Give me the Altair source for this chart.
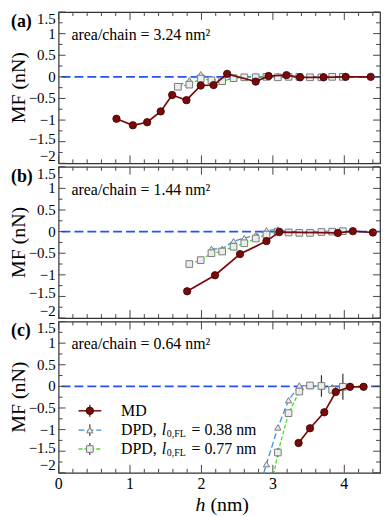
import altair as alt
import pandas as pd

FONT = "Liberation Serif"

# ---------------- data ----------------
x_major = [0, 1, 2, 3, 4]
x_tick_labels = ["0", "1", "2", "3", "4"]
x_minor = [0.2, 0.4, 0.6, 0.8, 1.2, 1.4, 1.6, 1.8, 2.2, 2.4, 2.6, 2.8,
           3.2, 3.4, 3.6, 3.8, 4.2, 4.4]
y_major = [-2, -1.5, -1, -0.5, 0, 0.5, 1, 1.5]
y_tick_labels = ["−2", "−1.5", "−1", "−0.5", "0", "0.5", "1", "1.5"]
y_minor = [-1.75, -1.25, -0.75, -0.25, 0.25, 0.75, 1.25]

h_dpd = [1.67, 1.83, 1.99, 2.14, 2.29, 2.45, 2.60, 2.76, 2.91, 3.07, 3.22,
         3.37, 3.52, 3.68, 3.83, 3.98]

# panel (a): area/chain = 3.24 nm2
a_md_h = [0.81, 1.04, 1.24, 1.43, 1.59, 1.79, 1.99, 2.17, 2.36, 2.76, 2.94,
          3.19, 3.38, 3.71, 4.02, 4.37]
a_md_mf = [-0.97, -1.12, -1.05, -0.80, -0.42, -0.54, -0.20, -0.19, 0.07,
           -0.11, 0.02, 0.04, -0.01, -0.01, 0.0, 0.0]
a_t_h = h_dpd
a_t_mf = [-0.21, -0.08, 0.06, -0.05, -0.09, -0.03, 0.0, 0.01, 0.01, 0.02,
          0.0, 0.01, 0.0, 0.0, 0.0, 0.01]
a_s_h = h_dpd
a_s_mf = [-0.23, -0.18, -0.04, -0.08, -0.10, -0.03, -0.01, -0.01, 0.0,
          -0.01, 0.0, 0.0, -0.01, -0.01, 0.0, 0.0]

# panel (b): area/chain = 1.44 nm2
b_md_h = [1.80, 2.19, 2.54, 2.91, 3.09, 3.91, 4.12, 4.40]
b_md_mf = [-1.38, -1.01, -0.52, -0.22, -0.01, -0.03, 0.01, -0.02]
b_t_h = [2.14, 2.29, 2.45, 2.60, 2.76, 2.91, 3.07, 3.22, 3.37, 3.52, 3.68,
         3.83, 3.98]
b_t_mf = [-0.40, -0.40, -0.22, -0.15, -0.08, 0.03, 0.05, 0.0, 0.0, 0.0,
          0.0, 0.01, 0.01]
b_s_h = [1.83, 1.99, 2.14, 2.29, 2.45, 2.60, 2.76, 2.91, 3.07, 3.22, 3.37,
         3.52, 3.68, 3.83, 3.98]
b_s_mf = [-0.75, -0.66, -0.50, -0.46, -0.35, -0.27, -0.16, -0.07, 0.0,
          -0.02, -0.03, -0.03, -0.01, 0.0, 0.01]

# panel (c): area/chain = 0.64 nm2
c_md_h = [3.36, 3.52, 3.72, 3.88, 4.08, 4.27]
c_md_mf = [-1.31, -0.97, -0.60, -0.13, -0.01, -0.01]
c_t_h = [2.76, 2.91, 3.07, 3.22, 3.37, 3.52, 3.68, 3.83, 3.98]
c_t_mf = [-2.6, -1.80, -0.95, -0.32, 0.02, 0.01, 0.0, -0.02, 0.0]
c_s_h = [2.91, 3.07, 3.22, 3.37, 3.52, 3.68, 3.83, 3.98]
c_s_mf = [-3.0, -1.53, -0.62, -0.12, 0.02, 0.01, -0.08, -0.01]
c_err_h = [3.07, 3.68, 3.98]
c_err_mf = [-1.53, 0.01, -0.01]
c_err_e = [0.1, 0.25, 0.3]

area_labels = ["area/chain = 3.24 nm²", "area/chain = 1.44 nm²",
               "area/chain = 0.64 nm²"]
panel_labels = ["(a)", "(b)", "(c)"]
legend_labels = ["MD", "DPD, ", "l", "0,FL", "= 0.38 nm", "= 0.77 nm"]
y_title = "MF (nN)"

# ---------------- style ----------------
W, H = 324, 152.5
C_MD = "#7a0a0a"
C_T = "#3a8fdc"
C_S = "#46e01c"
C_ZERO = "#2553f2"
C_TICK = "#444444"
C_MK = "#7a7a7a"
C_MKF = "#ececec"

X_SCALE = alt.Scale(domain=[0, 4.5], nice=False, zero=False)
Y_SCALE = alt.Scale(domain=[-2, 1.5], nice=False, zero=False)


def xe(f):
    return alt.X(f + ":Q", scale=X_SCALE, axis=None)


def ye(f):
    return alt.Y(f + ":Q", scale=Y_SCALE, axis=None)


def txt(t, x, y, size=16, weight="normal", style="normal", align="left",
        angle=0):
    return alt.Chart(pd.DataFrame({"t": [t]})).mark_text(
        font=FONT, fontSize=size, fontWeight=weight, fontStyle=style,
        align=align, baseline="middle", color="black", angle=angle
    ).encode(text="t:N", x=alt.value(x), y=alt.value(y))


def panel(idx, md_h, md_mf, t_h, t_mf, s_h, s_mf, bottom=False, err=None):
    md = pd.DataFrame({"h": md_h, "mf": md_mf})
    tr = pd.DataFrame({"h": t_h, "mf": t_mf})
    sq = pd.DataFrame({"h": s_h, "mf": s_mf})
    layers = []
    layers.append(alt.Chart(pd.DataFrame({"z": [0]})).mark_rule(
        color=C_ZERO, strokeWidth=1.6, strokeDash=[9, 4]).encode(y=ye("z")))
    layers.append(alt.Chart(tr).mark_line(
        color=C_T, strokeWidth=1.3, strokeDash=[6, 3], clip=True
    ).encode(x=xe("h"), y=ye("mf")))
    layers.append(alt.Chart(sq).mark_line(
        color=C_S, strokeWidth=1.3, strokeDash=[4, 2], clip=True
    ).encode(x=xe("h"), y=ye("mf")))
    if err is not None:
        ed = pd.DataFrame({"h": err[0],
                           "lo": [m - e for m, e in zip(err[1], err[2])],
                           "hi": [m + e for m, e in zip(err[1], err[2])]})
        layers.append(alt.Chart(ed).mark_rule(
            color="#333333", strokeWidth=1.2, clip=True
        ).encode(x=xe("h"), y=ye("lo"), y2="hi:Q"))
    layers.append(alt.Chart(tr).mark_point(
        shape="triangle-up", filled=True, fill=C_MKF, stroke=C_MK,
        strokeWidth=1, size=40, opacity=1, clip=True
    ).encode(x=xe("h"), y=ye("mf")))
    layers.append(alt.Chart(sq).mark_point(
        shape="square", filled=True, fill=C_MKF, stroke=C_MK,
        strokeWidth=1, size=45, opacity=1, clip=True
    ).encode(x=xe("h"), y=ye("mf")))
    layers.append(alt.Chart(md).mark_line(
        color=C_MD, strokeWidth=1.7
    ).encode(x=xe("h"), y=ye("mf")))
    layers.append(alt.Chart(md).mark_point(
        shape="circle", filled=True, fill=C_MD, stroke="#3a0000",
        strokeWidth=0.8, size=55, opacity=1
    ).encode(x=xe("h"), y=ye("mf")))

    # inward ticks on all four sides
    for vals, ln in ((x_major, 8), (x_minor, 4)):
        d = pd.DataFrame({"v": vals})
        layers.append(alt.Chart(d).mark_rule(color=C_TICK, strokeWidth=1)
                      .encode(x=xe("v"), y=alt.value(H), y2=alt.value(H - ln)))
        layers.append(alt.Chart(d).mark_rule(color=C_TICK, strokeWidth=1)
                      .encode(x=xe("v"), y=alt.value(0), y2=alt.value(ln)))
    for vals, ln in ((y_major, 7), (y_minor, 4)):
        d = pd.DataFrame({"v": vals})
        layers.append(alt.Chart(d).mark_rule(color=C_TICK, strokeWidth=1)
                      .encode(y=ye("v"), x=alt.value(0), x2=alt.value(ln)))
        layers.append(alt.Chart(d).mark_rule(color=C_TICK, strokeWidth=1)
                      .encode(y=ye("v"), x=alt.value(W), x2=alt.value(W - ln)))

    # y tick labels (first and last flush with the panel edges)
    ylab = pd.DataFrame({"v": y_major, "t": y_tick_labels})
    for sub, bl, dy in ((ylab.iloc[[0]], "alphabetic", -2.5),
                        (ylab.iloc[[1]], "middle", -3),
                        (ylab.iloc[2:-1], "middle", 0),
                        (ylab.iloc[[-1]], "top", 0)):
        layers.append(alt.Chart(sub).mark_text(
            font=FONT, fontSize=15, align="right", baseline=bl, dy=dy,
            color="black"
        ).encode(y=ye("v"), x=alt.value(-3), text="t:N"))

    layers.append(txt(y_title, -40, H / 2, size=20, align="center", angle=270))
    layers.append(txt(panel_labels[idx], -48, 10, size=18, weight="bold"))
    layers.append(txt(area_labels[idx], 13, 23, size=16))

    if bottom:
        xlab = pd.DataFrame({"v": x_major, "t": x_tick_labels})
        layers.append(alt.Chart(xlab).mark_text(
            font=FONT, fontSize=16, align="center", baseline="middle",
            color="black"
        ).encode(x=xe("v"), y=alt.value(H + 11), text="t:N"))
        rows = [90, 109.5, 128.5]
        specs = [(C_MD, None, "circle", C_MD, "#3a0000", 55, "#3a0000"),
                 (C_T, [6, 3], "triangle-up", C_MKF, C_MK, 40, "#333333"),
                 (C_S, [4, 2], "square", C_MKF, C_MK, 45, "#333333")]
        for ry, (lc, dash, shp, fc, sc, sz, ec) in zip(rows, specs):
            base = alt.Chart(pd.DataFrame({"k": [0]}))
            kw = dict(color=lc, strokeWidth=1.5 if dash is None else 1.3)
            if dash is not None:
                kw["strokeDash"] = dash
            layers.append(base.mark_rule(**kw).encode(
                x=alt.value(20), x2=alt.value(43), y=alt.value(ry)))
            layers.append(base.mark_rule(color=ec, strokeWidth=1.1).encode(
                x=alt.value(31.5), y=alt.value(ry - 6), y2=alt.value(ry + 6)))
            layers.append(base.mark_point(
                shape=shp, filled=True, fill=fc, stroke=sc, strokeWidth=1,
                size=sz, opacity=1).encode(x=alt.value(31.5), y=alt.value(ry)))
        layers.append(txt(legend_labels[0], 63, rows[0]))
        for ry, val in ((rows[1], legend_labels[4]), (rows[2], legend_labels[5])):
            layers.append(txt(legend_labels[1], 63, ry))
            layers.append(txt(legend_labels[2], 104, ry, style="italic"))
            layers.append(txt(legend_labels[3], 109, ry + 4, size=10))
            layers.append(txt(val, 134, ry))
        # x-axis title: italic h + (nm)
        layers.append(txt("h", 138, 185, size=20, style="italic"))
        layers.append(txt("(nm)", 153, 185, size=20))

    return alt.layer(*layers).properties(width=W, height=H)


pa = panel(0, a_md_h, a_md_mf, a_t_h, a_t_mf, a_s_h, a_s_mf)
pb = panel(1, b_md_h, b_md_mf, b_t_h, b_t_mf, b_s_h, b_s_mf)
pc = panel(2, c_md_h, c_md_mf, c_t_h, c_t_mf, c_s_h, c_s_mf, bottom=True,
           err=(c_err_h, c_err_mf, c_err_e))

chart = alt.vconcat(
    pa, pb, pc, spacing=0,
    padding={"left": 0, "top": 0, "right": 0, "bottom": 0},
).configure(font=FONT).configure_view(stroke="#333333", strokeWidth=1.2)

chart.save("out.html", embed_options={"renderer": "svg", "actions": False})
